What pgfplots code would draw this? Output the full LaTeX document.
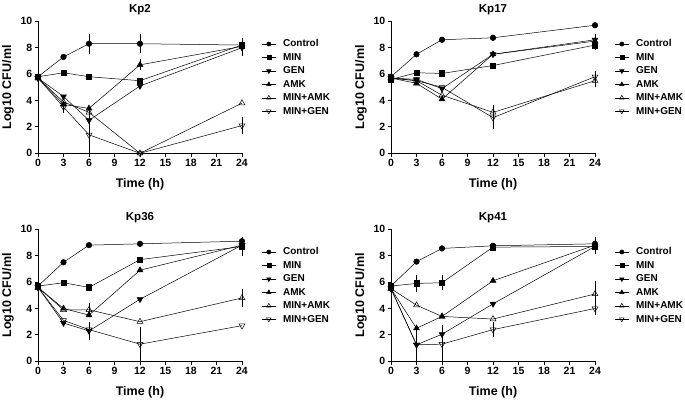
\documentclass[border=0pt]{standalone}
\usepackage{pgfplots}
\pgfplotsset{compat=1.18}
\usepackage{fontspec}
\setmainfont{Liberation Sans}

\newcommand{\tfnt}{\fontsize{10.5}{12}\selectfont\bfseries}
\newcommand{\lfnt}{\fontsize{12.5}{14}\selectfont\bfseries}
\pgfplotsset{
 kp/.style={
  scale only axis, width=204pt, height=132pt,
  xmin=0,xmax=24,ymin=0,ymax=10,
  xtick={0,3,...,24}, ytick={0,2,...,10},
  axis lines=left, axis line style={-, line width=0.9pt},
  tick style={black, line width=0.9pt}, tick align=outside, major tick length=3.5pt,
  clip=false,
  /pgf/number format/assume math mode=true,
  tick label style={font=\tfnt},
  xticklabel style={inner sep=2pt},
  yticklabel style={inner sep=2pt},
  every axis x label/.style={at={(rel axis cs:0.5,0)}, yshift=-31pt, anchor=center, font=\lfnt},
  every axis y label/.style={at={(rel axis cs:0,0.5)}, xshift=-30pt, rotate=90, anchor=center, font=\lfnt},
  every axis title/.style={at={(rel axis cs:0.5,1)}, yshift=12pt, anchor=center, font=\fontsize{11.5}{13}\selectfont\bfseries},
  xlabel={Time (h)}, ylabel={Log10 CFU/ml},
  legend style={draw=none, fill=none, at={(1.095,0.87)}, anchor=north west, font=\fontsize{10}{11.5}\selectfont\bfseries, row sep=3pt, column sep=6pt, inner sep=0pt,
    nodes={inner sep=1pt}},
  legend cell align=left,
  legend image code/.code={\draw[mark repeat=2,mark phase=2,#1, every mark/.append style={scale=0.75}] plot coordinates {(0pt,0pt)(7pt,0pt)(14pt,0pt)};},
  every axis plot/.append style={black, line width=0.5pt},
 },
 ctrl/.style={mark=*, mark size=2.8pt, mark options={fill=black, solid}},
 mn/.style={mark=square*, mark size=2.7pt, mark options={fill=black, solid}},
 gen/.style={mark=triangle*, mark size=3.4pt, mark options={fill=black, rotate=180, solid}},
 amk/.style={mark=triangle*, mark size=3.4pt, mark options={fill=black, solid}},
 mnamk/.style={mark=triangle, mark size=3.4pt, mark options={fill=white, solid}},
 mngen/.style={mark=triangle, mark size=3.4pt, mark options={fill=white, rotate=180, solid}},
 errs/.style={forget plot, draw=none, mark=none, error bars/.cd, y dir=both, y explicit, error bar style={line width=0.5pt, black}, error mark options={black, mark size=2.8pt, line width=0.5pt}},
}

\begin{document}
\begin{tikzpicture}
\path[use as bounding box] (0,0) rectangle (685pt,401pt);

% ---------------- Kp2
\begin{axis}[kp, at={(38pt,247.7pt)}, anchor=south west, title={Kp2}]
\addplot[errs] coordinates {(6,8.3) +- (0,0.55) (12,8.3) +- (0,0.5) (24,8.2) +- (0,0.35) (24,8.0) +- (0,0.45) (6,2.5) +- (0,0.4) (6,1.4) +- (0,1.4) (12,6.7) +- (0,0.2) (3,3.5) +- (0,0.2) (24,2.1) +- (0,0.4) (6,3.1) +- (0,0.2)};
\addplot[ctrl] coordinates {(0,5.8) (3,7.3) (6,8.3) (12,8.3) (24,8.2)};
\addplot[mn] coordinates {(0,5.8) (3,6.1) (6,5.8) (12,5.5) (24,8.2)};
\addplot[gen] coordinates {(0,5.7) (3,4.3) (6,2.5) (12,5.1) (24,8.0)};
\addplot[amk] coordinates {(0,5.7) (3,3.7) (6,3.4) (12,6.7) (24,8.1)};
\addplot[mnamk] coordinates {(0,5.7) (3,3.9) (6,3.1) (12,0) (24,3.8)};
\addplot[mngen] coordinates {(0,5.7) (3,3.5) (6,1.4) (12,0) (24,2.1)};
\legend{Control,MIN,GEN,AMK,MIN+AMK,MIN+GEN}
\end{axis}

% ---------------- Kp17
\begin{axis}[kp, at={(391pt,247.7pt)}, anchor=south west, title={Kp17}]
\addplot[errs] coordinates {(12,3.1) +- (0,0.35) (24,5.5) +- (0,0.3) (12,2.7) +- (0,0.65) (24,5.8) +- (0,0.2) (24,8.2) +- (0,0.2) (24,8.6) +- (0,0.2)};
\addplot[ctrl] coordinates {(0,5.8) (3,7.5) (6,8.6) (12,8.75) (24,9.7)};
\addplot[mn] coordinates {(0,5.6) (3,6.1) (6,6.05) (12,6.65) (24,8.2)};
\addplot[gen] coordinates {(0,5.7) (3,5.6) (6,4.9) (12,7.5) (24,8.6)};
\addplot[amk] coordinates {(0,5.7) (3,5.3) (6,4.1) (12,7.5) (24,8.5)};
\addplot[mnamk] coordinates {(0,5.7) (3,5.5) (6,4.4) (12,3.1) (24,5.5)};
\addplot[mngen] coordinates {(0,5.7) (3,5.5) (6,5.0) (12,2.7) (24,5.8)};
\legend{Control,MIN,GEN,AMK,MIN+AMK,MIN+GEN}
\end{axis}

% ---------------- Kp36
\begin{axis}[kp, at={(38pt,39.7pt)}, anchor=south west, title={Kp36}]
\addplot[errs] coordinates {(24,8.7) +- (0,0.5) (6,3.9) +- (0,0.3) (24,4.8) +- (0,0.5) (6,2.4) +- (0,0.3) (12,1.3) +- (0,1.1) (6,2.3) +- (0,0.5)};
\addplot[ctrl] coordinates {(0,5.7) (3,7.5) (6,8.8) (12,8.9) (24,9.1)};
\addplot[mn] coordinates {(0,5.7) (3,5.95) (6,5.6) (12,7.7) (24,8.7)};
\addplot[gen] coordinates {(0,5.6) (3,2.9) (6,2.3) (12,4.7) (24,8.8)};
\addplot[amk] coordinates {(0,5.6) (3,4.0) (6,3.5) (12,6.9) (24,8.8)};
\addplot[mnamk] coordinates {(0,5.6) (3,3.9) (6,3.9) (12,3.0) (24,4.8)};
\addplot[mngen] coordinates {(0,5.6) (3,3.1) (6,2.4) (12,1.3) (24,2.7)};
\legend{Control,MIN,GEN,AMK,MIN+AMK,MIN+GEN}
\end{axis}

% ---------------- Kp41
\begin{axis}[kp, at={(391pt,39.7pt)}, anchor=south west, title={Kp41}]
\addplot[errs] coordinates {(3,5.9) +- (0,0.45) (6,5.95) +- (0,0.35) (24,8.7) +- (0,0.35) (24,8.9) +- (0,0.3) (3,1.25) +- (0,1.1) (6,2.05) +- (0,0.5) (6,1.3) +- (0,1.2) (12,2.4) +- (0,0.35) (24,4.0) +- (0,0.3) (24,5.1) +- (0,0.75)};
\addplot[ctrl] coordinates {(0,5.7) (3,7.55) (6,8.55) (12,8.75) (24,8.9)};
\addplot[mn] coordinates {(0,5.7) (3,5.9) (6,5.95) (12,8.65) (24,8.7)};
\addplot[gen] coordinates {(0,5.5) (3,1.25) (6,2.05) (12,4.35) (24,8.7)};
\addplot[amk] coordinates {(0,5.5) (3,2.5) (6,3.4) (12,6.1) (24,8.8)};
\addplot[mnamk] coordinates {(0,5.5) (3,4.25) (6,3.4) (12,3.2) (24,5.1)};
\addplot[mngen] coordinates {(0,5.5) (3,1.25) (6,1.3) (12,2.4) (24,4.0)};
\legend{Control,MIN,GEN,AMK,MIN+AMK,MIN+GEN}
\end{axis}
\end{tikzpicture}
\end{document}
